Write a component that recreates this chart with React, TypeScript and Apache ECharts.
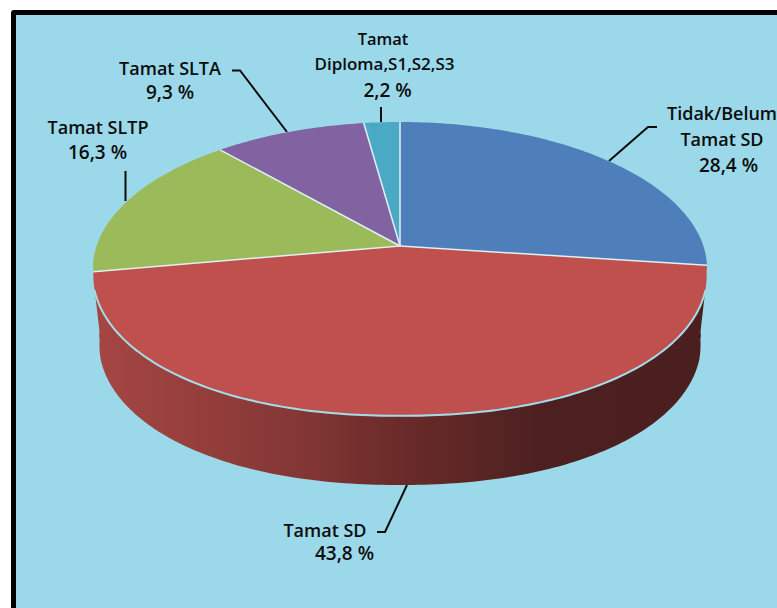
import React, { useEffect, useRef } from "react";
import * as echarts from "echarts";

// Category names and the percentages printed on the chart
const categories = ["Tidak/Belum Tamat SD", "Tamat SD", "Tamat SLTP", "Tamat SLTA", "Tamat Diploma,S1,S2,S3"];
const printedValues = ["28,4 %", "43,8 %", "16,3 %", "9,3 %", "2,2 %"];
// Slice shares as drawn in the picture (the drawn boundary of the first slice differs a little from its label)
const drawnShares = [27.1, 45.1, 16.3, 9.3, 2.2];
const sliceColors = ["#4f7fba", "#bf504d", "#9bba59", "#8163a1", "#4aa9c5"];

const BG = "#9bd9ea";
const CX = 400, APEX_Y = 246, ELL_Y = 268.5, ELL_RX = 306.5, ELL_RY = 146.5;
const K = 0.1536, A = 143, B = 303.4, P = 2.15, DEPTH = 70, SHRINK = 0.98;

function rim(deg: number): number[] {
  const t = (deg * Math.PI) / 180;
  const u = Math.sin(t), v = Math.cos(t), w = 1 + K * v;
  const x = CX + (B * u) / w;
  const y = APEX_Y - (A * v) / w;
  const nx = (x - CX) / ELL_RX, ny = (y - ELL_Y) / ELL_RY;
  if (ny <= 0) return [x, y];
  const f = Math.pow(Math.pow(Math.abs(nx), P) + Math.pow(Math.abs(ny), P), -1 / P);
  const fx = nx * f, fy = ny * f;
  const bulge = 1.2 * Math.pow(Math.abs(fx), 6) * Math.min(1, fy / 0.15) * Math.sign(fx);
  return [CX + fx * ELL_RX + bulge, ELL_Y + fy * ELL_RY];
}
function arc(from: number, to: number): number[][] {
  const pts: number[][] = [];
  const n = Math.max(2, Math.ceil(Math.abs(to - from)));
  for (let i = 0; i <= n; i++) pts.push(rim(from + ((to - from) * i) / n));
  return pts;
}
const lower = (p: number[]) => [CX + (p[0] - CX) * SHRINK, p[1] + DEPTH];

const total = drawnShares.reduce((a, b) => a + b, 0);
const startDeg = drawnShares.map((_, i) => (drawnShares.slice(0, i).reduce((a, b) => a + b, 0) / total) * 360);
const endDeg = drawnShares.map((_, i) => (drawnShares.slice(0, i + 1).reduce((a, b) => a + b, 0) / total) * 360);

const labelFont = { fontFamily: "'Open Sans', sans-serif", fill: "#0c0c0c" };
const labelText = (text: string, x: number, y: number, fontSize: number) => ({
  type: "text",
  z: 5,
  style: { ...labelFont, text, x, y, fontSize, textAlign: "center", textVerticalAlign: "middle", fontWeight: 600 },
});
const leader = (points: number[][]) => ({
  type: "polyline",
  z: 1,
  shape: { points },
  style: { stroke: "#0b0b0b", lineWidth: 2, fill: "none" },
});

export default function App() {
  const ref = useRef<HTMLDivElement>(null);
  useEffect(() => {
    document.body.style.margin = "0";
    const chart = echarts.init(ref.current!, undefined, { renderer: "svg" });
    chart.setOption({
      animation: false,
      graphic: [
        { type: "rect", z: -2, shape: { x: 11, y: 10, width: 766, height: 598, r: [3, 0, 0, 0] }, style: { fill: "#000" } },
        { type: "rect", z: -1, shape: { x: 16, y: 15, width: 761, height: 593 }, style: { fill: BG } },
        leader([[657, 127], [648, 127], [609, 161]]),
        leader([[377, 532], [385, 532], [407, 485]]),
        leader([[125.5, 171], [125.5, 201]]),
        leader([[232, 70.5], [240, 70.5], [287, 132]]),
        leader([[381, 107], [381, 122]]),
        labelText("Tidak/Belum", 722, 113, 18),
        labelText("Tamat SD", 722, 139, 18),
        labelText(printedValues[0], 728.5, 165, 19),
        labelText("Tamat SD", 325, 530, 18),
        labelText(printedValues[1], 344.5, 553, 19),
        labelText("Tamat SLTP", 98, 127, 18),
        labelText(printedValues[2], 97.5, 152, 19),
        labelText("Tamat SLTA", 170, 68, 18),
        labelText(printedValues[3], 170, 92, 19),
        labelText("Tamat", 383, 38, 16.5),
        labelText("Diploma,S1,S2,S3", 384.5, 63, 17),
        labelText(printedValues[4], 387.5, 90, 19),
      ],
      series: [
        {
          type: "custom",
          coordinateSystem: "none",
          silent: true,
          z: 2,
          data: [drawnShares[1]],
          renderItem: () => {
            const top = arc(107, 253);
            const bottom = arc(264, 96).map(lower);
            return {
              type: "polygon",
              shape: { points: [...top, ...bottom] },
              style: {
                fill: new echarts.graphic.LinearGradient(0, 0, 1, 0, [
                  { offset: 0, color: "#a64643" },
                  { offset: 0.33, color: "#843735" },
                  { offset: 0.5, color: "#6a2b29" },
                  { offset: 0.73, color: "#4c2020" },
                  { offset: 1, color: "#4a1f1e" },
                ]),
              },
            };
          },
        },
        {
          type: "custom",
          coordinateSystem: "none",
          silent: true,
          z: 3,
          name: "Pendidikan",
          data: categories.map((name, i) => ({ name, value: drawnShares[i] })),
          renderItem: (params: any) => {
            const i = params.dataIndex;
            const pts = arc(startDeg[i], endDeg[i]);
            return {
              type: "polygon",
              shape: { points: [[CX, APEX_Y], ...pts] },
              style: { fill: sliceColors[i] },
            };
          },
        },
        {
          type: "custom",
          coordinateSystem: "none",
          silent: true,
          z: 4,
          data: drawnShares,
          renderItem: (params: any) => {
            const i = params.dataIndex;
            const p = rim(startDeg[i]);
            return {
              type: "group",
              children: [
                {
                  type: "polyline",
                  shape: { points: [[CX, APEX_Y], p] },
                  style: { stroke: "#dff1f4", lineWidth: 1.5, fill: "none" },
                },
                ...(i === 1
                  ? [{
                      type: "polyline",
                      shape: { points: arc(107, 253).map((q) => [q[0], q[1] + 0.8]) },
                      style: { stroke: "#a6dcea", lineWidth: 2, fill: "none" },
                    }]
                  : []),
              ],
            };
          },
        },
      ],
    });
    return () => chart.dispose();
  }, []);
  return <div ref={ref} style={{ width: 777, height: 608 }} />;
}
